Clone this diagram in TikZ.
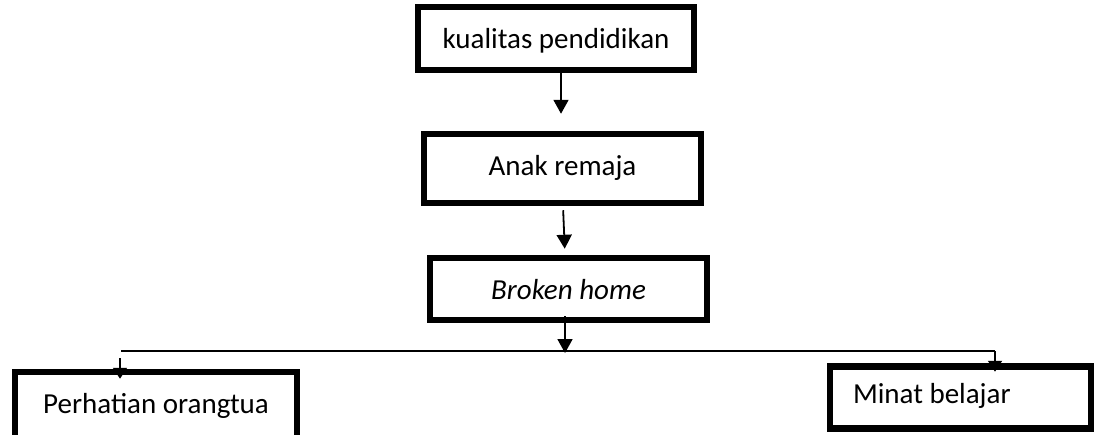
\documentclass[tikz,border=0pt]{standalone}
\usepackage{fontspec}
\setmainfont{Carlito}
\usetikzlibrary{arrows.meta}
\begin{document}
\begin{tikzpicture}[x=1pt,y=-1pt,
  box/.style={draw, line width=6.5pt, inner sep=0pt, text depth=6pt,
    font=\fontsize{29}{34}\selectfont},
  flow/.style={line width=1.8pt, -{Triangle[width=15pt,length=14pt]}},
  bus/.style={line width=1.8pt},
  drop/.style={line width=1.8pt, -{Triangle[width=14pt,length=11pt]}}]
\useasboundingbox (0,0) rectangle (1094,434);
\fill[white] (0,0) rectangle (1094,434);

% boxes
\node[box, minimum width=276pt, minimum height=63pt, text height=25pt]
  (b1) at (556,38.5) {kualitas pendidikan};
\node[box, minimum width=277pt, minimum height=69pt, text height=19pt]
  (b2) at (562.5,168.5) {Anak remaja};
\node[box, minimum width=277pt, minimum height=62pt, text height=26pt]
  (b3) at (568.5,289) {\itshape Broken home};
\node[box, minimum width=282pt, minimum height=70pt, text height=18pt]
  (b4) at (156,407) {Perhatian orangtua};
\node[box, minimum width=261pt, minimum height=62pt, text height=17pt]
  (b5) at (960.5,397.5) {\makebox[215pt][l]{Minat belajar}};

% vertical flow
\draw[flow, shorten <=-5pt, shorten >=17pt] ([xshift=5pt]b1.south) -- ([xshift=-1.5pt]b2.north);
\draw[flow, shorten <=4pt, shorten >=6pt] ([xshift=0.5pt]b2.south) -- ([xshift=-3.5pt]b3.north);
\coordinate (hub) at (565,353);
\draw[flow, shorten <=-7pt] ([xshift=-3.5pt]b3.south) -- (hub);

% branching line
\coordinate (busL) at (121,351);
\coordinate (busR) at (995,351);
\draw[bus] (busL) -- (busR);
\coordinate (dropL) at (120,358);
\draw[drop, shorten >=-10pt] (dropL) -- (dropL |- b4.north);
\draw[drop, shorten >=-8.5pt] (busR) -- (busR |- b5.north);
\end{tikzpicture}
\end{document}
